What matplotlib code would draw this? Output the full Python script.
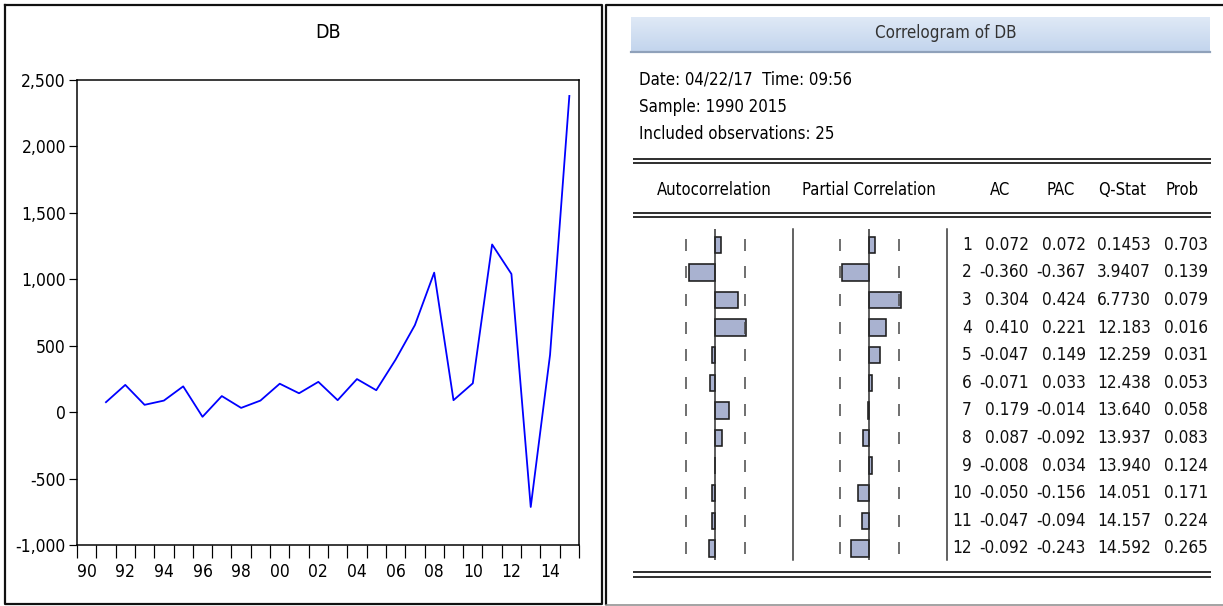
import numpy as np
import matplotlib
matplotlib.use("Agg")
import matplotlib.pyplot as plt

plt.rcParams['font.family'] = ['DejaVu Sans']
plt.rcParams['font.stretch'] = 'condensed'

# DB series, 1991-2015 (first difference, so 1990 is lost)
years = np.arange(1991, 2016)
db = [75, 205, 55, 87, 194, -35, 121, 32, 87, 214, 142, 228, 90, 249, 165,
      395, 655, 1050, 90, 217, 1262, 1040, -714, 431, 2380]
year_labels = ["90", "92", "94", "96", "98", "00", "02", "04", "06", "08",
               "10", "12", "14"]
y_ticks = [-1000, -500, 0, 500, 1000, 1500, 2000, 2500]

# correlogram table
lags = np.arange(1, 13)
ac = [0.072, -0.360, 0.304, 0.410, -0.047, -0.071, 0.179, 0.087, -0.008,
      -0.050, -0.047, -0.092]
pac = [0.072, -0.367, 0.424, 0.221, 0.149, 0.033, -0.014, -0.092, 0.034,
       -0.156, -0.094, -0.243]
qstat = [0.1453, 3.9407, 6.7730, 12.183, 12.259, 12.438, 13.640, 13.937,
         13.940, 14.051, 14.157, 14.592]
prob = [0.703, 0.139, 0.079, 0.016, 0.031, 0.053, 0.058, 0.083, 0.124,
        0.171, 0.224, 0.265]
n_obs = 25

W, H = 1223, 606
fig = plt.figure(figsize=(W / 100, H / 100), dpi=100)
px = 0.72  # one pixel in points


def frac(x0, y0, x1, y1):
    return [x0 / W, 1 - y1 / H, (x1 - x0) / W, (y1 - y0) / H]


# background layer in pixel coordinates
bg = fig.add_axes([0, 0, 1, 1])
bg.set_xlim(0, W)
bg.set_ylim(H, 0)
bg.axis("off")

# panel frames
bg.plot([5, 602, 602, 5, 5], [5, 5, 604, 604, 5], color="#111111", lw=2.2 * px)
bg.plot([1223, 606, 606], [5, 5, 604], color="#111111", lw=2.2 * px)
bg.plot([606, 1223], [605, 605], color="#888888", lw=1.5 * px)

# ---- left: line chart ----
ax = fig.add_axes(frac(77, 80, 579, 545))
ax.plot(years + 0.5, db, color="#0000ff", lw=1.8 * px)
ax.set_xlim(1990, 2016)
ax.set_ylim(-1000, 2500)
ax.set_yticks(y_ticks)
ax.set_yticklabels([f"{v:,}" for v in y_ticks])
ax.set_xticks(np.arange(1990, 2017))
ax.set_xticklabels([])
ax.set_xticks(np.arange(1990, 2016, 2) + 0.5, minor=True)
ax.set_xticklabels(year_labels, minor=True)
ax.tick_params(axis="x", which="major", length=9, width=1.2 * px, direction="out")
ax.tick_params(axis="x", which="minor", length=0, pad=13, labelsize=12.5)
ax.tick_params(axis="y", length=6, width=1.2 * px, labelsize=12.5, pad=2)
for s in ax.spines.values():
    s.set_linewidth(1.5 * px)
bg.text(328, 32, "DB", ha="center", va="center", fontsize=14)

# ---- right: correlogram ----
grad = np.linspace(0, 1, 64).reshape(-1, 1)
top = np.array([0.875, 0.914, 0.965])
bot = np.array([0.765, 0.835, 0.930])
bg.imshow(top + grad[..., None] * (bot - top), extent=[631, 1210, 51, 17],
          aspect="auto", zorder=1)
bg.plot([631, 1210], [51.5, 51.5], color="#8fa1ba", lw=2.2 * px, zorder=2)
bg.text(946, 33, "Correlogram of DB", ha="center", va="center", fontsize=12.2,
        color="#333333", zorder=3)

info = ["Date: 04/22/17  Time: 09:56", "Sample: 1990 2015",
        f"Included observations: {n_obs}"]
for i, line in enumerate(info):
    bg.text(639, 80 + i * 27, line, ha="left", va="center", fontsize=12.1)

for y in (159, 163, 213, 217, 572, 577):
    bg.plot([634, 1210], [y, y], color="#333333", lw=2 * px)

heads = [("Autocorrelation", 714), ("Partial Correlation", 869), ("AC", 1000),
         ("PAC", 1061), ("Q-Stat", 1122), ("Prob", 1182)]
for txt, x in heads:
    bg.text(x, 190, txt, ha="center", va="center", fontsize=11.9)

# column separators
bg.plot([793, 793], [229, 560], color="#333333", lw=1.5 * px)
bg.plot([947, 947], [229, 560], color="#333333", lw=1.5 * px)

# bar columns share one scale: 1 correlation unit = 73.75 px
unit = 73.75
row0, step = 244.8, 27.6
y_top, y_bot = 229, 560
bound = 2 / np.sqrt(n_obs)


def bar_column(x0, x1, zero, vals):
    a = fig.add_axes(frac(x0, y_top, x1, y_bot))
    a.set_xlim((x0 - zero) / unit, (x1 - zero) / unit)
    a.set_ylim(1 + (y_bot - row0) / step, 1 - (row0 - y_top) / step)
    a.axis("off")
    a.barh(lags, vals, height=0.6, color="#a9b2d0", edgecolor="#1c1c1c",
           lw=1.6 * px, zorder=2)
    a.axvline(0, color="#2a2a2a", lw=1.5 * px, zorder=3)
    for b in (-bound, bound):
        a.vlines(np.full(len(lags), b), lags - 0.22, lags + 0.22,
                 color="#444444", lw=1.5 * px)


bar_column(640, 790, 715.3, ac)
bar_column(797, 942, 869.3, pac)

# numeric table
cols = [(972, lambda i: f"{lags[i]}"),
        (1029, lambda i: f"{ac[i]:.3f}"),
        (1086, lambda i: f"{pac[i]:.3f}"),
        (1151, lambda i: f"{qstat[i]:.4f}" if qstat[i] < 10 else f"{qstat[i]:.3f}"),
        (1208, lambda i: f"{prob[i]:.3f}")]
for i in range(len(lags)):
    y = row0 + i * step
    for x, fmt in cols:
        bg.text(x, y, fmt(i), ha="right", va="center", fontsize=12.3,
                color="#111111")

fig.savefig("out.png", dpi=100)
